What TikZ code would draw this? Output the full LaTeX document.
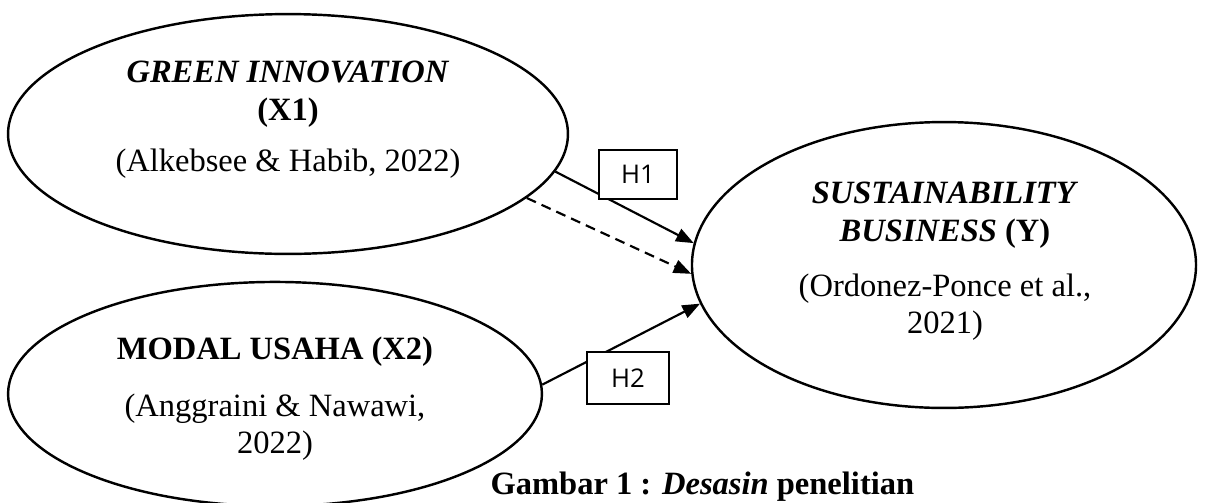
\documentclass[tikz,border=0pt]{standalone}
\usepackage{fontspec}
\setmainfont{Liberation Serif}
\newfontfamily\hfont{Open Sans}
\usetikzlibrary{shapes.geometric,arrows.meta}
\begin{document}
\begin{tikzpicture}[x=0.369pt,y=-0.369pt,
  ell/.style={draw,ellipse,line width=0.9pt,inner sep=0pt},
  lbl/.style={align=center,font=\fontsize{12}{13.8}\selectfont,inner sep=0pt},
  hbox/.style={draw,fill=white,line width=0.75pt,font=\hfont\fontsize{9.5}{11}\selectfont,inner sep=0pt},
  conn/.style={line width=0.8pt,-{Triangle[length=6.5pt,width=5pt]}},
  dconn/.style={conn,dash pattern=on 3.7pt off 2.3pt}]
\useasboundingbox (0,0) rectangle (1206,502);
% ellipses
\node[ell,minimum width=206.6pt,minimum height=88.5pt] (X1) at (288,134) {};
\node[ell,minimum width=197pt,minimum height=82.7pt] (X2) at (275,394) {};
\node[ell,minimum width=186pt,minimum height=105.5pt] (Y) at (944,265) {};
% texts
\node[lbl] (X1t) at (288,94) {\textbf{\textit{GREEN INNOVATION}}\\\textbf{(X1)}};
\node[lbl] (X1c) at (288,164) {(Alkebsee \& Habib, 2022)};
\node[lbl] (X2t) at (275,352) {\textbf{MODAL USAHA (X2)}};
\node[lbl] (X2c) at (275,427) {(Anggraini \& Nawawi,\\2022)};
\node[lbl] (Yt) at (945,215) {\textbf{\textit{SUSTAINABILITY}}\\\textbf{\textit{BUSINESS} (Y)}};
\node[lbl] (Yc) at (945,307) {(Ordonez-Ponce et al.,\\2021)};
% connectors
\draw[conn] (X1.-8) -- (Y.175);
\draw[dconn] (X1.-15) -- (Y.182);
\draw[conn] (X2.2) -- (Y.189);
% hypothesis boxes
\node[hbox,minimum width=28.8pt,minimum height=18.1pt] (H1) at (638,174.5) {H1};
\node[hbox,minimum width=30.3pt,minimum height=19.2pt] (H2) at (628,378) {H2};
% caption
\node[lbl,anchor=west] (cap) at (490,487) {\textbf{Gambar 1 : \textit{Desasin} penelitian}};
\end{tikzpicture}
\end{document}
